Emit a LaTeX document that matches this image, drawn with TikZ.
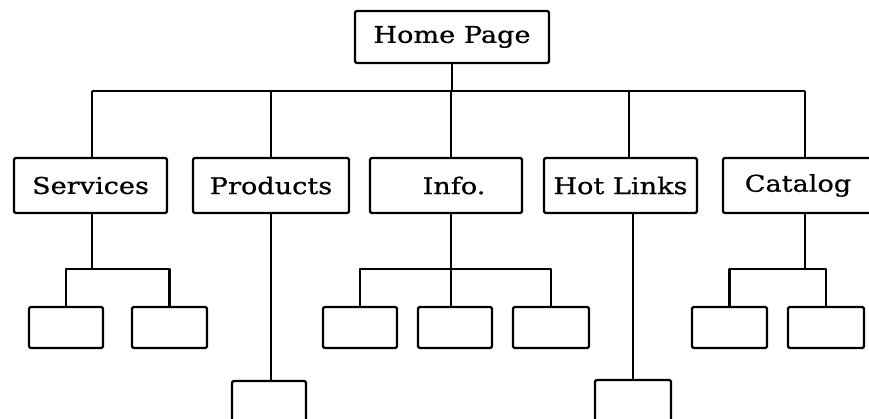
\documentclass[tikz,border=0pt]{standalone}
\usepackage{fontspec}
\setmainfont{DejaVu Serif}[FakeStretch=1.18,FakeBold=0.8]
\begin{document}
\begin{tikzpicture}[x=1pt,y=-1pt,
  line width=2.2pt, line join=round,
  box/.style={draw, line width=2.2pt, rounded corners=1.5pt, inner sep=0pt, font=\fontsize{23}{27}\selectfont},
  link/.style={draw, line width=2.2pt}]
\useasboundingbox (0,0) rectangle (869,419);
\clip (0,0) rectangle (869,419);
% top
\node[box, minimum width=194pt, minimum height=52pt] (home) at (452,37) {Home Page};
% level 2
\node[box, minimum width=153pt, minimum height=55pt] (services) at (90.5,185.5) {Services};
\node[box, minimum width=156pt, minimum height=55pt] (products) at (271,185.5) {Products};
\node[box, minimum width=152pt, minimum height=55pt] (info) at (446,185.5) {\hspace*{16pt}Info.};
\node[box, minimum width=153pt, minimum height=55pt] (hot) at (620.5,185.5) {Hot Links};
\node[box, minimum width=150pt, minimum height=55pt] (catalog) at (798,185.5) {Catalog};
% level 3
\node[box, minimum width=74pt, minimum height=41pt] (s1) at (66,327.5) {};
\node[box, minimum width=75pt, minimum height=41pt] (s2) at (169.5,327.5) {};
\node[box, minimum width=74pt, minimum height=60pt] (p1) at (269,411) {};
\node[box, minimum width=74pt, minimum height=41pt] (i1) at (360,327.5) {};
\node[box, minimum width=74pt, minimum height=41pt] (i2) at (455,327.5) {};
\node[box, minimum width=76pt, minimum height=41pt] (i3) at (551,327.5) {};
\node[box, minimum width=76pt, minimum height=60pt] (h1) at (633,410) {};
\node[box, minimum width=75pt, minimum height=41pt] (c1) at (729.5,327.5) {};
\node[box, minimum width=76pt, minimum height=41pt] (c2) at (826,327.5) {};
% bus coordinates
\coordinate (hb) at (452,91);
\coordinate (bl) at (92,91);
\coordinate (br) at (805,91);
\coordinate (sb) at (92,269);
\coordinate (ib) at (451,269);
\coordinate (cb) at (805,269);
% connectors
\draw[link] (home.south) -- (hb);
\draw[link] (bl) -- (br);
\draw[link] (bl) -- (bl |- services.north);
\draw[link] (products.north |- hb) -- (products.north);
\draw[link] (ib |- hb) -- (ib |- info.north);
\draw[link] (629,91) -- (629,91 |- hot.north);
\draw[link] (br) -- (br |- catalog.north);
% services subtree
\draw[link] (sb |- services.south) -- (sb);
\draw[link] (s1.north) |- (sb) -| (s2.north);
% products
\draw[link] (products.south) -- (products.south |- p1.north);
% info subtree
\draw[link] (ib |- info.south) -- (ib);
\draw[link] (i1.north) |- (ib) -| (i3.north);
\draw[link] (ib) -- (ib |- i2.north);
% hot links
\draw[link] (h1.north |- hot.south) -- (h1.north);
% catalog subtree
\draw[link] (cb |- catalog.south) -- (cb);
\draw[link] (c1.north) |- (cb) -| (c2.north);
\end{tikzpicture}
\end{document}
